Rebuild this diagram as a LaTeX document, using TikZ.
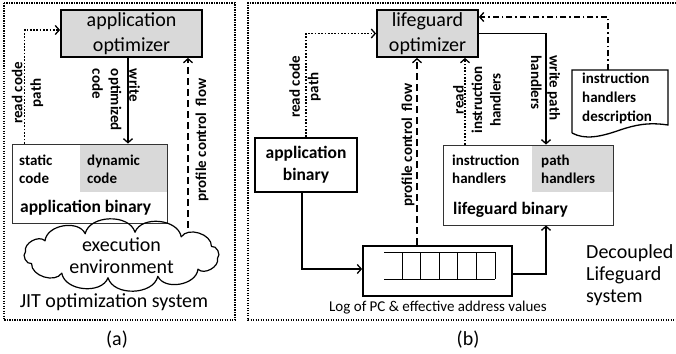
\documentclass[tikz,border=0pt]{standalone}
\usepackage{fontspec}
\setmainfont{Carlito}
\usetikzlibrary{arrows.meta,calc}
\definecolor{boxgray}{RGB}{217,217,217}
\begin{document}
\begin{tikzpicture}[x=1pt,y=-1pt,
  >={Straight Barb[length=4pt,width=9pt,line width=1.3pt]},
  bigtxt/.style={font=\fontsize{20}{22}\selectfont, inner sep=0},
  lbl/.style={font=\bfseries\fontsize{15}{18.5}\selectfont, inner sep=0},
  intext/.style={font=\bfseries\fontsize{15}{18}\selectfont, inner sep=0},
  bintitle/.style={font=\bfseries\fontsize{17.5}{22}\selectfont, inner sep=0},
  optbox/.style={draw, line width=1.8pt, fill=boxgray, font=\fontsize{20}{25}\selectfont, align=center, inner sep=0},
  binbox/.style={draw=black!80, line width=0.9pt, inner sep=0},
  thickbox/.style={draw, line width=1.8pt, inner sep=0},
  frame/.style={dash pattern=on 1.3pt off 1.2pt, line width=1.3pt},
  conn/.style={line width=1.5pt},
  dotconn/.style={dash pattern=on 1.7pt off 1.6pt, line width=1.7pt},
  dashconn/.style={dash pattern=on 7pt off 4pt, line width=1.6pt},
  dashdotconn/.style={dash pattern=on 6pt off 3pt on 1.5pt off 3pt, line width=1.2pt},
]
\useasboundingbox (0,0) rectangle (676,353);

% ---------------- (a) ----------------
\draw[frame] (4,3) rectangle (235,320);
\node[optbox, minimum width=141pt, minimum height=47pt] (optA) at (131.5,33.5) {application\\optimizer};
\fill[boxgray] (80,144) rectangle (167,192);
\node[binbox, minimum width=155pt, minimum height=79pt] (binA) at (89.5,183.5) {};
\node[intext, anchor=west, align=left] (staticA) at (19,169) {static\\code};
\node[intext, anchor=west, align=left] (dynA) at (87,169) {dynamic\\code};
\node[bintitle, anchor=west] (appbinA) at (20,208) {application binary};
% cloud
\foreach \i in {0,...,12}
  \coordinate (P\i) at ({121.5-97*cos(\i*30+8)},{255-23*sin(\i*30+8)});
\draw[line width=1.2pt, line join=round] (P0)
  foreach \i in {1,...,12} { to[bend left=75] (P\i) } -- cycle;
\node[bigtxt, align=center] (cloudT) at (121.5,256) {execution\\environment};
\node[bigtxt] (jitA) at (114,302) {JIT optimization system};
\node[bigtxt] (capA) at (117,340) {(a)};

\draw[conn,->] ([xshift=-3.5pt]optA.south) -- ([xshift=-3.5pt]optA.south |- binA.north);
\node[lbl, rotate=-90, align=left] (wA) at (116,100) {write\\optimized\\code};
\draw[dotconn,->] ([xshift=13pt]binA.north west) |- ([yshift=3.5pt]optA.west);
\node[lbl, rotate=90, align=center] (rA) at (27.5,93) {read code\\path};
\coordinate (cA) at (188,228);
\draw[dashconn,->] (cA) -- (cA |- optA.south);
\node[lbl, rotate=90] (pA) at (202,140) {profile control\ \ flow};

% ---------------- (b) ----------------
\draw[frame] (676,3) -- (248,3) -- (248,320) -- (676,320);
\node[optbox, minimum width=101pt, minimum height=47pt] (optB) at (427.5,33.5) {lifeguard\\optimizer};
\node[thickbox, minimum width=102pt, minimum height=54pt, bintitle, align=center] (appB) at (306,165) {application\\binary};
\node[thickbox, minimum width=149pt, minimum height=50pt] (queue) at (437.5,271) {};
\draw[line width=0.9pt] (495,252) -- (384,252) (384,279) -- (495,279);
\foreach \qx in {402,420,439,457,476,495} \draw[line width=0.9pt] (\qx,252) -- (\qx,279);
\node[font=\fontsize{15}{18}\selectfont, inner sep=0] (logB) at (438,308) {Log of PC \& effective address values};

\fill[boxgray] (532,145) rectangle (613,192);
\node[binbox, minimum width=170pt, minimum height=80pt] (lgB) at (528,185) {};
\node[intext, anchor=west, align=left] (ihB) at (452,169) {instruction\\handlers};
\node[intext, anchor=west, align=left] (phB) at (541,169) {path\\handlers};
\node[bintitle, anchor=west] (lgbinB) at (453,210) {lifeguard binary};

\node[minimum width=96pt, minimum height=60pt, inner sep=0] (desc) at (620,100) {};
\draw[line width=1.3pt] (572,133) -- (572,70) -- (668,70) -- (668,125)
   .. controls (648,122) and (635,125) .. (620,130)
   .. controls (600,137) and (585,140) .. (572,133);
\node[font=\bfseries\fontsize{15}{19}\selectfont, inner sep=0, anchor=west, align=left] (descT) at (582,98.5) {instruction\\handlers\\description};

\node[bigtxt, anchor=west, align=left] (decB) at (586,275) {Decoupled\\Lifeguard\\system};
\node[bigtxt] (capB) at (468,340) {(b)};

\draw[dotconn,->] (appB.north) |- (optB.west);
\node[lbl, rotate=90, align=center] (rB) at (305,87) {read code\\path};
\draw[conn,->] ([xshift=-4pt]appB.south) |- ([yshift=2pt]queue.west);
\draw[conn,->] ([yshift=-3pt]queue.east) -| ([xshift=18pt]lgB.south);
\draw[dashconn,->] ([xshift=-20.5pt]queue.north) -- ([xshift=-20.5pt]queue.north |- optB.south);
\node[lbl, rotate=90] (pB) at (408,145) {profile control\ \ flow};
\draw[dotconn,->] ([xshift=-63pt]lgB.north) -- ([xshift=-63pt]lgB.north |- optB.south);
\node[lbl, rotate=90, align=center] (riB) at (477,100) {read\\instruction\\handlers};
\draw[conn,->] (optB.east) -| ([xshift=18pt]lgB.north);
\node[lbl, rotate=-90, align=left] (wpB) at (545.5,88) {write path\\handlers};
\draw[dashdotconn,->] ([xshift=-12pt]desc.north) |- ([yshift=16.5pt]optB.east);
\end{tikzpicture}
\end{document}
